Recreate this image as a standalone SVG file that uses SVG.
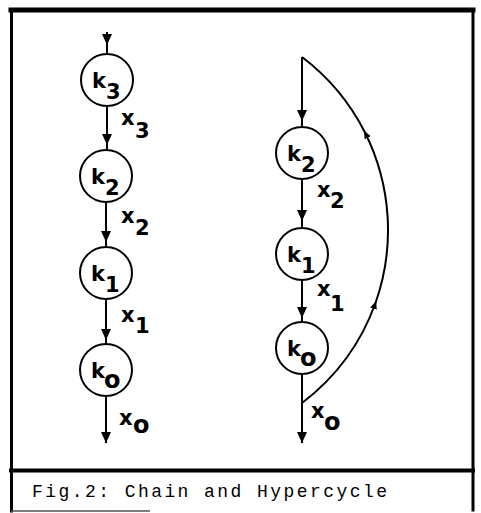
<svg xmlns="http://www.w3.org/2000/svg" width="481" height="513" viewBox="0 0 481 513">
<style>
.frame{fill:none;stroke:#000;stroke-linecap:square}
.node{fill:#fff;stroke:#000;stroke-width:2}
.edge{fill:none;stroke:#000;stroke-width:2}
.lbl{font-family:"DejaVu Sans","Liberation Sans",sans-serif;font-weight:bold;font-size:21px;fill:#000}
.sub{font-family:"DejaVu Sans","Liberation Sans",sans-serif;font-weight:bold;font-size:21px;fill:#000}
.o{font-size:24px}
.cap{font-family:"Liberation Mono","DejaVu Sans Mono",monospace;font-size:18px;fill:#000}
</style>
<defs>
<marker id="ah" markerUnits="userSpaceOnUse" markerWidth="12" markerHeight="12" viewBox="0 0 12 12" refX="11" refY="6" orient="auto">
<path d="M0,1 L11,6 L0,11 z" fill="#000"/>
</marker>
<marker id="ahs" markerUnits="userSpaceOnUse" markerWidth="10" markerHeight="10" viewBox="0 0 10 10" refX="6" refY="5" orient="auto">
<path d="M0,1.5 L8,5 L0,8.5 z" fill="#000"/>
</marker>
</defs>
<rect width="481" height="513" fill="#fff"/>
<g id="frame">
<line class="frame" x1="11" y1="10" x2="473" y2="10" stroke-width="5"/>
<line class="frame" x1="11.5" y1="10" x2="11.5" y2="511" stroke-width="3"/>
<line class="frame" x1="473" y1="10" x2="473" y2="510" stroke-width="3"/>
<line class="frame" x1="11" y1="470.5" x2="473" y2="470.5" stroke-width="4"/>
<line x1="11" y1="511" x2="150" y2="511" stroke="#555" stroke-width="1.5"/>
</g>
<g id="connectors">
<path class="edge" d="M107 32 V45 V54" marker-mid="url(#ah)"/>
<path class="edge" d="M107 106 V145 V150" marker-mid="url(#ah)"/>
<path class="edge" d="M106 202 V242 V247" marker-mid="url(#ah)"/>
<path class="edge" d="M106 299 V340 V344" marker-mid="url(#ah)"/>
<path class="edge" d="M106 396 V443" marker-end="url(#ah)"/>
<path class="edge" d="M302 57 V121 V127" marker-mid="url(#ah)"/>
<path class="edge" d="M302 179 V221 V228" marker-mid="url(#ah)"/>
<path class="edge" d="M302 280 V318 V322" marker-mid="url(#ah)"/>
<path class="edge" d="M302 374 V443" marker-end="url(#ah)"/>
<path class="edge" d="M302 403 A218.6 218.6 0 0 0 375.5 303 A218.6 218.6 0 0 0 365 132.5 A218.6 218.6 0 0 0 302 57" marker-mid="url(#ahs)"/>
</g>
<g id="k3">
<circle class="node" cx="107" cy="80" r="26"/>
<text class="lbl" x="92" y="88">k</text><text class="sub" x="106" y="99">3</text>
</g>
<g id="k2">
<circle class="node" cx="106" cy="176" r="26"/>
<text class="lbl" x="91" y="184">k</text><text class="sub" x="105" y="195">2</text>
</g>
<g id="k1">
<circle class="node" cx="106" cy="273" r="26"/>
<text class="lbl" x="91" y="281">k</text><text class="sub" x="105" y="292">1</text>
</g>
<g id="k0">
<circle class="node" cx="106" cy="370" r="26"/>
<text class="lbl" x="91" y="378">k</text><text class="sub o" x="104" y="388">o</text>
</g>
<g id="hk2">
<circle class="node" cx="302" cy="153" r="26"/>
<text class="lbl" x="287" y="161">k</text><text class="sub" x="301" y="172">2</text>
</g>
<g id="hk1">
<circle class="node" cx="302" cy="254" r="26"/>
<text class="lbl" x="287" y="262">k</text><text class="sub" x="301" y="273">1</text>
</g>
<g id="hk0">
<circle class="node" cx="302" cy="348" r="26"/>
<text class="lbl" x="287" y="356">k</text><text class="sub o" x="300" y="366">o</text>
</g>
<g id="labels">
<text class="lbl" x="121" y="125">x</text><text class="sub" x="135" y="138">3</text>
<text class="lbl" x="121" y="223">x</text><text class="sub" x="135" y="235">2</text>
<text class="lbl" x="121" y="322">x</text><text class="sub" x="135" y="333">1</text>
<text class="lbl" x="119" y="425">x</text><text class="sub o" x="133" y="433">o</text>
<text class="lbl" x="317" y="197">x</text><text class="sub" x="330" y="208">2</text>
<text class="lbl" x="317" y="296">x</text><text class="sub" x="330" y="311">1</text>
<text class="lbl" x="311" y="418">x</text><text class="sub o" x="324" y="430">o</text>
</g>
<g id="caption">
<text class="cap" x="32" y="497" textLength="355" lengthAdjust="spacing">Fig.2: Chain and Hypercycle</text>
</g>
</svg>
